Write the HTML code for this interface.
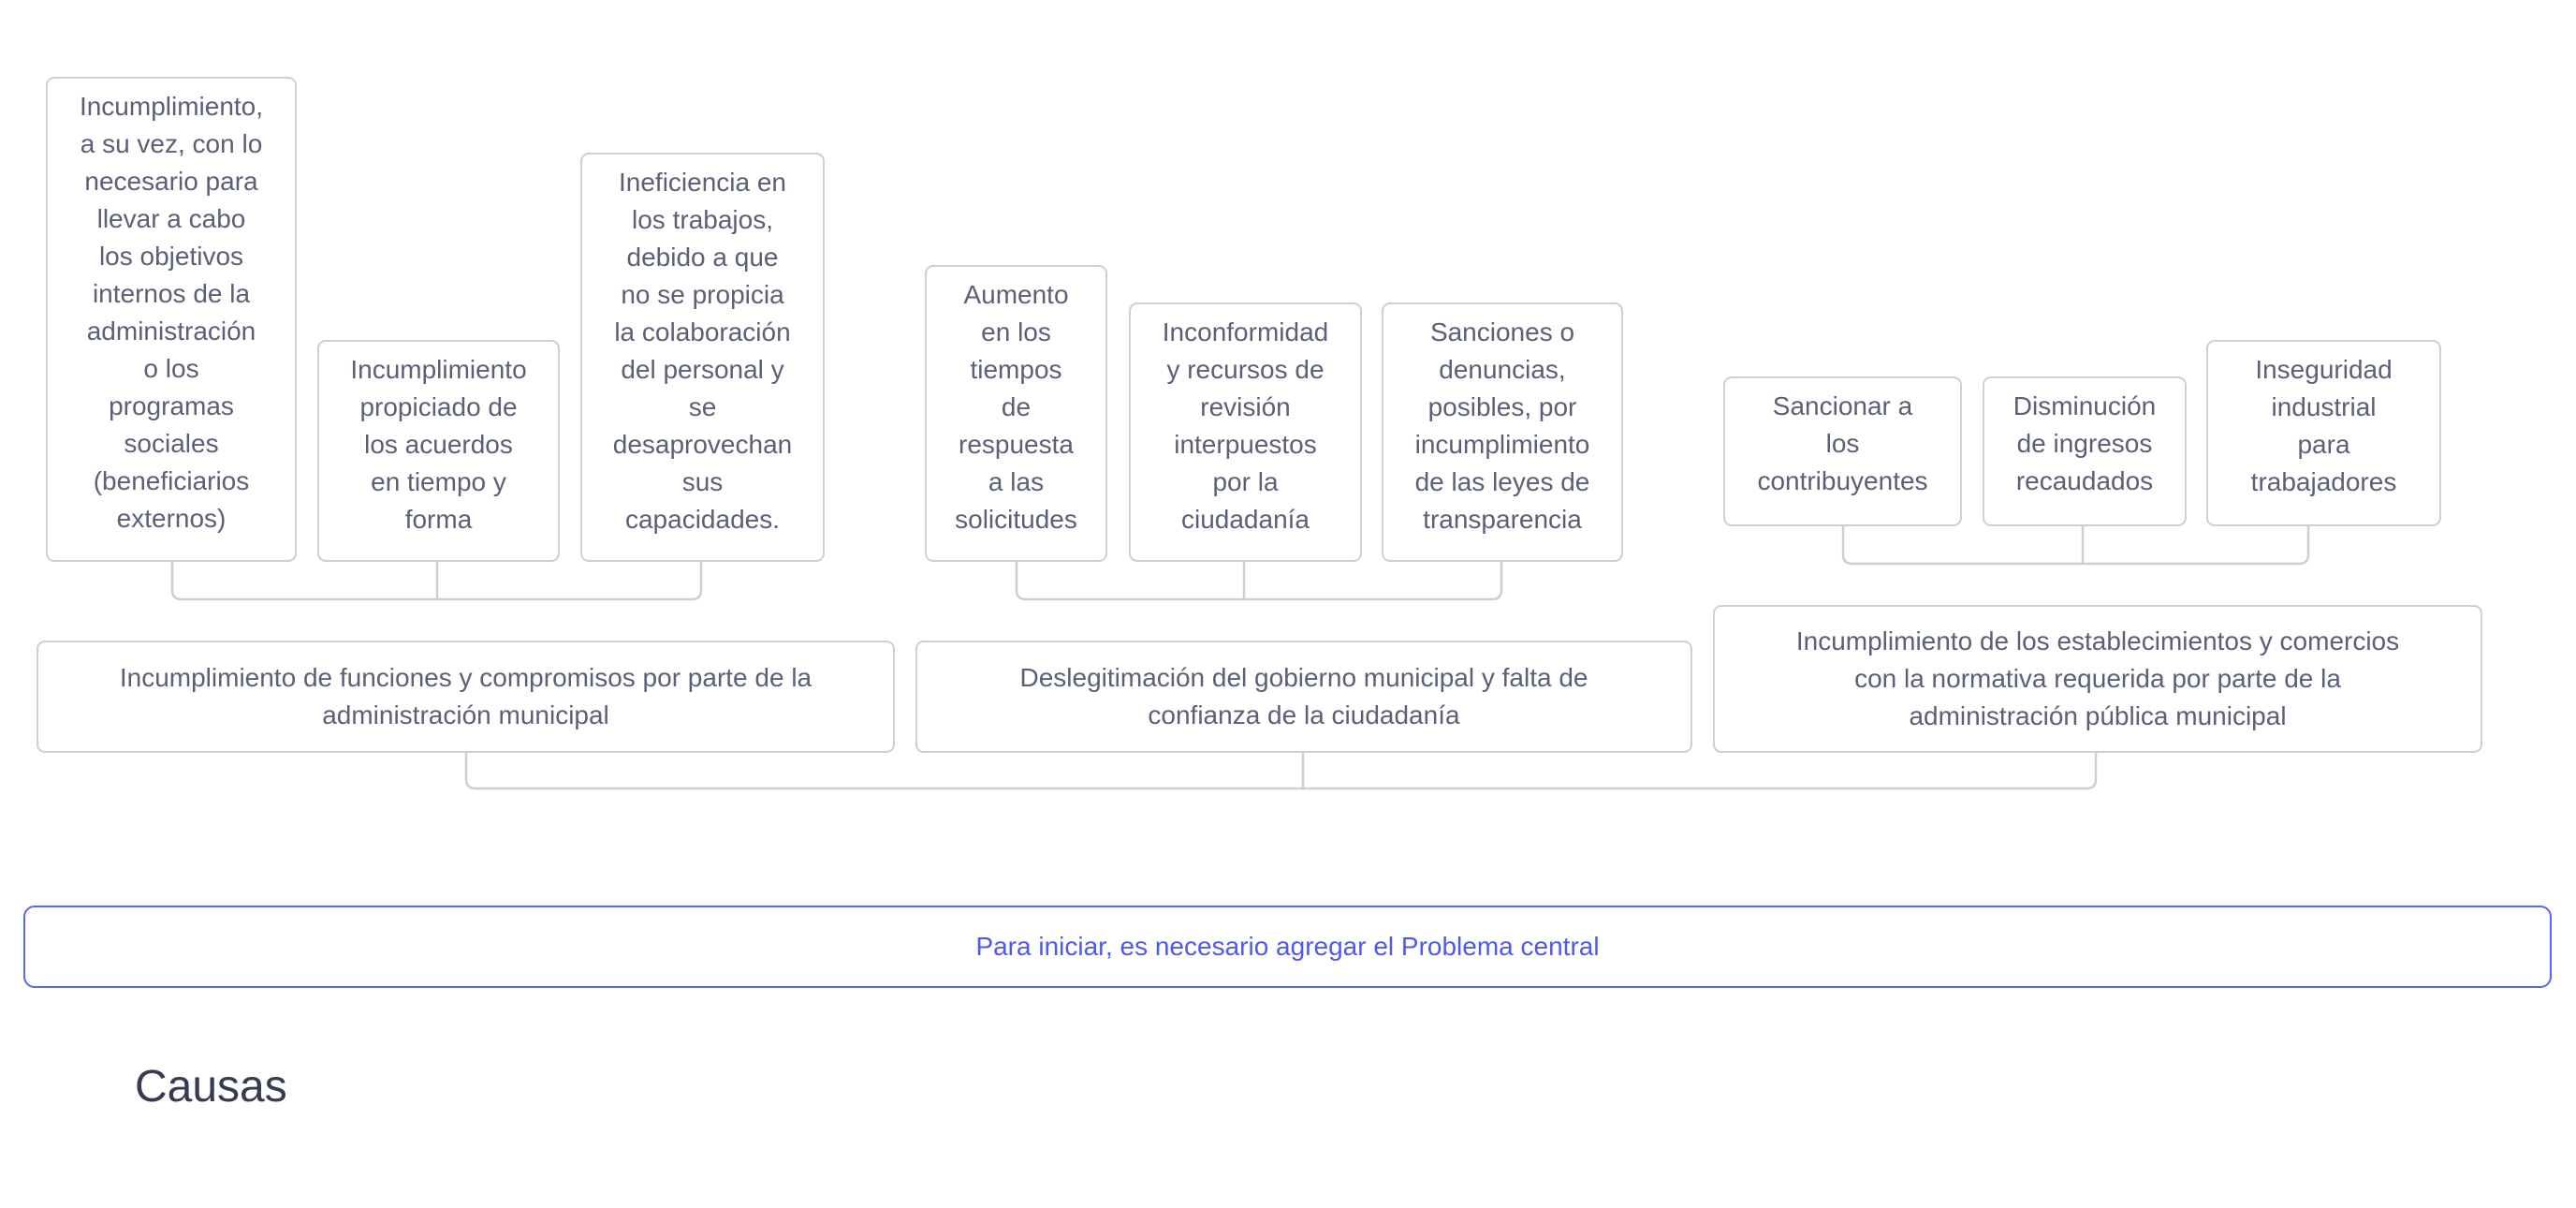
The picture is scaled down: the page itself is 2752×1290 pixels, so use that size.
<!DOCTYPE html>
<html><head><meta charset="utf-8"><style>
html,body{margin:0;padding:0;background:#fff;}
body{width:2752px;height:1290px;position:relative;overflow:hidden;font-family:"Liberation Sans",sans-serif;}
.b{position:absolute;box-sizing:border-box;border:2.5px solid #cfcfd3;border-radius:9px;background:#fff;color:#5b6078;font-size:28px;line-height:40px;text-align:center;white-space:nowrap;padding-top:10px;}
.m{display:flex;align-items:center;justify-content:center;padding-top:0;}
svg{position:absolute;left:0;top:0;}
</style></head><body>
<svg width="2752" height="1290" fill="none" stroke="#cfcfd3" stroke-width="2.5">
<path d="M184 600 V630 Q184 640 194 640 H739 Q749 640 749 630 V600 M467 600 V640"/>
<path d="M1086 600 V630 Q1086 640 1096 640 H1594 Q1604 640 1604 630 V600 M1329 600 V640"/>
<path d="M1969 562 V592 Q1969 602 1979 602 H2456 Q2466 602 2466 592 V562 M2225 562 V602"/>
<path d="M498 804 V832 Q498 842 508 842 H2229 Q2239 842 2239 832 V804 M1392 804 V842"/>
</svg>
<div class="b" style="left:49px;top:82px;width:268px;height:518px">Incumplimiento,<br>a su vez, con lo<br>necesario para<br>llevar a cabo<br>los objetivos<br>internos de la<br>administración<br>o los<br>programas<br>sociales<br>(beneficiarios<br>externos)</div>
<div class="b" style="left:339px;top:363px;width:259px;height:237px">Incumplimiento<br>propiciado de<br>los acuerdos<br>en tiempo y<br>forma</div>
<div class="b" style="left:620px;top:163px;width:261px;height:437px">Ineficiencia en<br>los trabajos,<br>debido a que<br>no se propicia<br>la colaboración<br>del personal y<br>se<br>desaprovechan<br>sus<br>capacidades.</div>
<div class="b" style="left:988px;top:283px;width:195px;height:317px">Aumento<br>en los<br>tiempos<br>de<br>respuesta<br>a las<br>solicitudes</div>
<div class="b" style="left:1206px;top:323px;width:249px;height:277px">Inconformidad<br>y recursos de<br>revisión<br>interpuestos<br>por la<br>ciudadanía</div>
<div class="b" style="left:1476px;top:323px;width:258px;height:277px">Sanciones o<br>denuncias,<br>posibles, por<br>incumplimiento<br>de las leyes de<br>transparencia</div>
<div class="b" style="left:1841px;top:402px;width:255px;height:160px">Sancionar a<br>los<br>contribuyentes</div>
<div class="b" style="left:2118px;top:402px;width:218px;height:160px">Disminución<br>de ingresos<br>recaudados</div>
<div class="b" style="left:2357px;top:363px;width:251px;height:199px">Inseguridad<br>industrial<br>para<br>trabajadores</div>
<div class="b m" style="left:39px;top:684px;width:917px;height:120px"><div>Incumplimiento de funciones y compromisos por parte de la<br>administración municipal</div></div>
<div class="b m" style="left:978px;top:684px;width:830px;height:120px"><div>Deslegitimación del gobierno municipal y falta de<br>confianza de la ciudadanía</div></div>
<div class="b m" style="left:1830px;top:646px;width:822px;height:158px"><div>Incumplimiento de los establecimientos y comercios<br>con la normativa requerida por parte de la<br>administración pública municipal</div></div>
<div class="b m" style="left:25px;top:967px;width:2701px;height:88px;border-color:#5b63f5;color:#4f58f0;border-radius:12px"><div>Para iniciar, es necesario agregar el Problema central</div></div>
<div style="position:absolute;left:144px;top:1131px;font-size:48px;line-height:60px;color:#363b52;">Causas</div>
</body></html>
